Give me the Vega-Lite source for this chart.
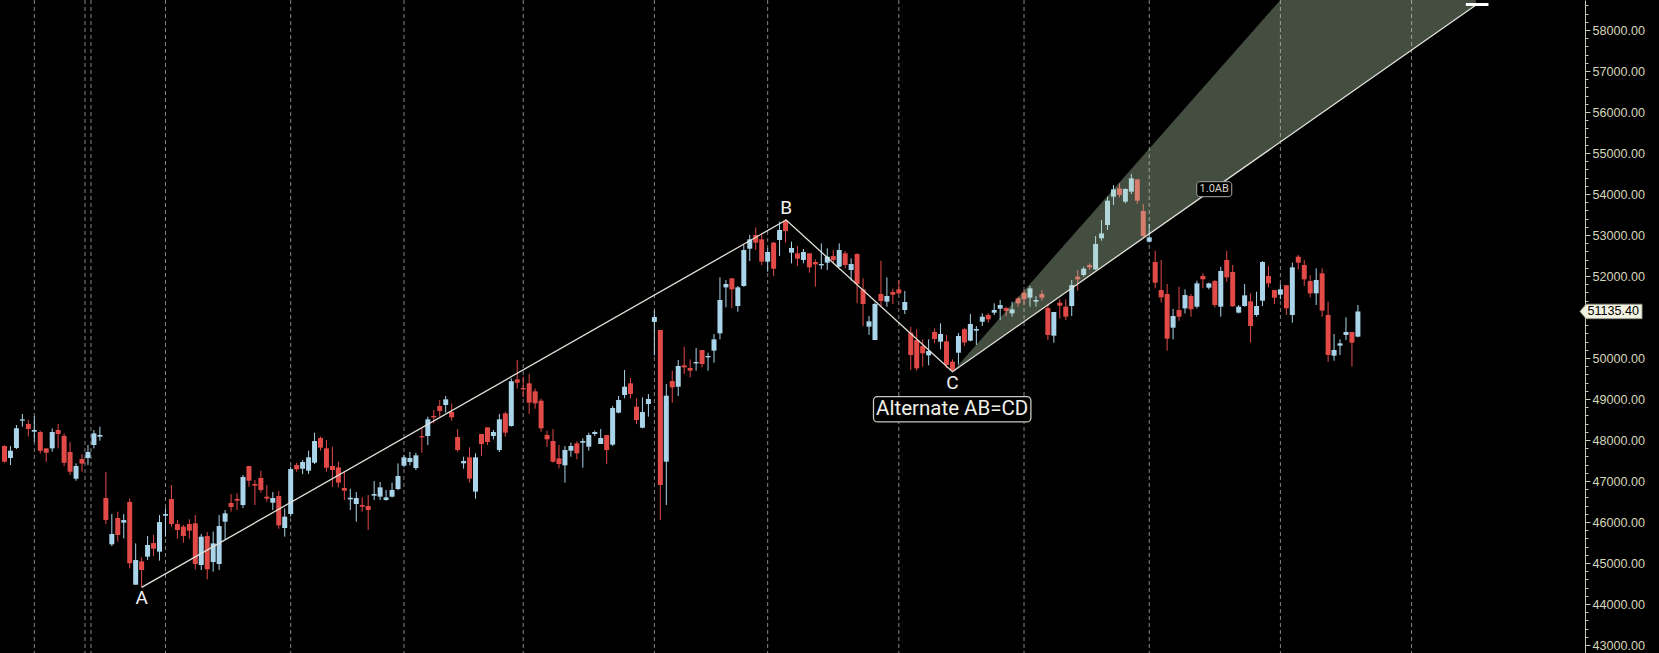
{
"$schema": "https://vega.github.io/schema/vega-lite/v6.json",
"width": 1585, "height": 653,
"autosize": {"type": "none"},
"padding": {"left": 0, "top": 0, "right": 74, "bottom": 0},
"background": "#000000",
"config": {"view": {"stroke": null}},
"datasets": {
"candles": [
{"k":0,"o":47853,"h":47870,"l":47450,"c":47471},
{"k":1,"o":47561,"h":47853,"l":47390,"c":47739},
{"k":2,"o":47805,"h":48366,"l":47780,"c":48284},
{"k":3,"o":48471,"h":48634,"l":48325,"c":48503},
{"k":4,"o":48390,"h":48487,"l":48081,"c":48268},
{"k":5,"o":48203,"h":48585,"l":47959,"c":48244},
{"k":6,"o":48195,"h":48227,"l":47674,"c":47739},
{"k":7,"o":47796,"h":47800,"l":47471,"c":47691},
{"k":8,"o":47796,"h":48284,"l":47715,"c":48195},
{"k":9,"o":48244,"h":48390,"l":47796,"c":48146},
{"k":10,"o":48097,"h":48162,"l":47366,"c":47447},
{"k":11,"o":47707,"h":47951,"l":47146,"c":47227},
{"k":12,"o":47056,"h":47431,"l":47008,"c":47366},
{"k":13,"o":47536,"h":47658,"l":47227,"c":47423},
{"k":14,"o":47561,"h":47878,"l":47390,"c":47707},
{"k":15,"o":47878,"h":48244,"l":47796,"c":48162},
{"k":16,"o":48081,"h":48325,"l":47983,"c":48122},
{"k":17,"o":46585,"h":47219,"l":45951,"c":46048},
{"k":18,"o":45455,"h":46195,"l":45414,"c":45707},
{"k":19,"o":46097,"h":46252,"l":45520,"c":45683},
{"k":20,"o":45984,"h":46195,"l":45601,"c":46048},
{"k":21,"o":46487,"h":46577,"l":44870,"c":44992},
{"k":22,"o":44471,"h":45479,"l":44471,"c":45073},
{"k":23,"o":45040,"h":45138,"l":44406,"c":44829},
{"k":24,"o":45154,"h":45658,"l":45073,"c":45439},
{"k":25,"o":45487,"h":45683,"l":45170,"c":45349},
{"k":26,"o":45276,"h":46170,"l":45057,"c":45999},
{"k":27,"o":46154,"h":46333,"l":45642,"c":46195},
{"k":28,"o":46561,"h":46902,"l":45886,"c":45951},
{"k":29,"o":45951,"h":46048,"l":45593,"c":45805},
{"k":30,"o":45886,"h":45927,"l":45496,"c":45658},
{"k":31,"o":45951,"h":46065,"l":45593,"c":45788},
{"k":32,"o":45967,"h":46170,"l":44845,"c":44975},
{"k":33,"o":44951,"h":45707,"l":44829,"c":45642},
{"k":34,"o":45658,"h":45756,"l":44601,"c":44845},
{"k":35,"o":45024,"h":45764,"l":44788,"c":45479},
{"k":36,"o":44975,"h":46170,"l":44829,"c":45902},
{"k":37,"o":46008,"h":46292,"l":45577,"c":46211},
{"k":38,"o":46463,"h":46683,"l":46252,"c":46365},
{"k":39,"o":46561,"h":46699,"l":46292,"c":46520},
{"k":40,"o":46414,"h":47146,"l":46341,"c":47097},
{"k":41,"o":47366,"h":47366,"l":46861,"c":47008},
{"k":42,"o":46927,"h":47024,"l":46414,"c":46886},
{"k":43,"o":47073,"h":47252,"l":46715,"c":46780},
{"k":44,"o":46618,"h":46902,"l":46496,"c":46569},
{"k":45,"o":46471,"h":46731,"l":46292,"c":46585},
{"k":46,"o":46634,"h":46756,"l":45837,"c":45918},
{"k":47,"o":45853,"h":46333,"l":45642,"c":46130},
{"k":48,"o":46195,"h":47349,"l":46130,"c":47292},
{"k":49,"o":47390,"h":47447,"l":47227,"c":47284},
{"k":50,"o":47300,"h":47512,"l":47170,"c":47463},
{"k":51,"o":47252,"h":47739,"l":47170,"c":47577},
{"k":52,"o":47447,"h":48178,"l":47414,"c":47975},
{"k":53,"o":48048,"h":48081,"l":47739,"c":47813},
{"k":54,"o":47796,"h":47999,"l":47227,"c":47325},
{"k":55,"o":47366,"h":47837,"l":46861,"c":47268},
{"k":56,"o":47333,"h":47471,"l":46845,"c":46959},
{"k":57,"o":46829,"h":47227,"l":46536,"c":46764},
{"k":58,"o":46552,"h":46813,"l":46292,"c":46593},
{"k":59,"o":46439,"h":46731,"l":46008,"c":46585},
{"k":60,"o":46414,"h":46601,"l":46252,"c":46374},
{"k":61,"o":46390,"h":46658,"l":45805,"c":46292},
{"k":62,"o":46642,"h":47000,"l":46536,"c":46683},
{"k":63,"o":46618,"h":46975,"l":46536,"c":46845},
{"k":64,"o":46536,"h":46780,"l":46520,"c":46601},
{"k":65,"o":46618,"h":46959,"l":46601,"c":46780},
{"k":66,"o":46804,"h":47430,"l":46780,"c":47122},
{"k":67,"o":47374,"h":47634,"l":47333,"c":47577},
{"k":68,"o":47463,"h":47707,"l":47382,"c":47561},
{"k":69,"o":47317,"h":47691,"l":47268,"c":47626},
{"k":70,"o":48097,"h":48284,"l":47691,"c":48065},
{"k":71,"o":48097,"h":48569,"l":47878,"c":48504},
{"k":72,"o":48585,"h":48732,"l":48406,"c":48553},
{"k":73,"o":48829,"h":48975,"l":48569,"c":48707},
{"k":74,"o":48854,"h":49073,"l":48666,"c":48992},
{"k":75,"o":48683,"h":48894,"l":48471,"c":48553},
{"k":76,"o":48073,"h":48268,"l":47715,"c":47756},
{"k":77,"o":47431,"h":47593,"l":47300,"c":47488},
{"k":78,"o":47577,"h":47821,"l":46959,"c":47057},
{"k":79,"o":46740,"h":47675,"l":46569,"c":47577},
{"k":80,"o":48146,"h":48146,"l":47610,"c":47902},
{"k":81,"o":48309,"h":48309,"l":47878,"c":47951},
{"k":82,"o":48097,"h":48244,"l":48016,"c":48195},
{"k":83,"o":47756,"h":48634,"l":47707,"c":48504},
{"k":84,"o":48650,"h":48691,"l":48081,"c":48179},
{"k":85,"o":48341,"h":49504,"l":48325,"c":49431},
{"k":86,"o":49479,"h":49951,"l":49252,"c":49398},
{"k":87,"o":49268,"h":49545,"l":49040,"c":49236},
{"k":88,"o":49382,"h":49610,"l":48634,"c":48911},
{"k":89,"o":49187,"h":49252,"l":48764,"c":48894},
{"k":90,"o":48959,"h":49008,"l":48203,"c":48284},
{"k":91,"o":48122,"h":48227,"l":47837,"c":48016},
{"k":92,"o":47975,"h":48268,"l":47447,"c":47471},
{"k":93,"o":47553,"h":47878,"l":47309,"c":47414},
{"k":94,"o":47382,"h":47853,"l":46959,"c":47756},
{"k":95,"o":47740,"h":47935,"l":47593,"c":47854},
{"k":96,"o":47918,"h":47967,"l":47528,"c":47675},
{"k":97,"o":47934,"h":48040,"l":47325,"c":47975},
{"k":98,"o":47837,"h":48178,"l":47739,"c":48122},
{"k":99,"o":48146,"h":48227,"l":48097,"c":48195},
{"k":100,"o":47902,"h":48268,"l":47902,"c":48048},
{"k":101,"o":48122,"h":48122,"l":47414,"c":47756},
{"k":102,"o":47886,"h":48829,"l":47853,"c":48780},
{"k":103,"o":48667,"h":49073,"l":48650,"c":48975},
{"k":104,"o":49097,"h":49707,"l":49016,"c":49300},
{"k":105,"o":49382,"h":49512,"l":49016,"c":49122},
{"k":106,"o":48813,"h":49016,"l":48390,"c":48487},
{"k":107,"o":48300,"h":49040,"l":48284,"c":48682},
{"k":108,"o":48878,"h":49122,"l":48569,"c":49000},
{"k":109,"o":50880,"h":51160,"l":50060,"c":51000},
{"k":110,"o":50683,"h":50683,"l":46049,"c":46902},
{"k":111,"o":47472,"h":49366,"l":46415,"c":49081},
{"k":112,"o":49439,"h":49691,"l":48910,"c":49284},
{"k":113,"o":49300,"h":49951,"l":49073,"c":49805},
{"k":114,"o":49821,"h":50276,"l":49609,"c":49772},
{"k":115,"o":49756,"h":49967,"l":49528,"c":49691},
{"k":116,"o":49869,"h":50243,"l":49691,"c":49902},
{"k":117,"o":50195,"h":50195,"l":49772,"c":49853},
{"k":118,"o":50016,"h":50130,"l":49691,"c":50049},
{"k":119,"o":50179,"h":50585,"l":49886,"c":50455},
{"k":120,"o":50601,"h":51967,"l":50455,"c":51414},
{"k":121,"o":51723,"h":51902,"l":51235,"c":51805},
{"k":122,"o":51943,"h":51943,"l":51211,"c":51674},
{"k":123,"o":51268,"h":51756,"l":51130,"c":51723},
{"k":124,"o":51756,"h":52756,"l":51739,"c":52634},
{"k":125,"o":52666,"h":53000,"l":52365,"c":52894},
{"k":126,"o":53000,"h":53187,"l":52634,"c":52813},
{"k":127,"o":52894,"h":53040,"l":52268,"c":52349},
{"k":128,"o":52349,"h":52675,"l":52105,"c":52585},
{"k":129,"o":52813,"h":52829,"l":51999,"c":52178},
{"k":130,"o":52878,"h":53325,"l":52487,"c":53122},
{"k":131,"o":53349,"h":53382,"l":52813,"c":53097},
{"k":132,"o":52569,"h":52837,"l":52309,"c":52683},
{"k":133,"o":52553,"h":52731,"l":52243,"c":52422},
{"k":134,"o":52390,"h":52658,"l":52309,"c":52585},
{"k":135,"o":52553,"h":52553,"l":52081,"c":52211},
{"k":136,"o":52341,"h":52406,"l":51739,"c":52284},
{"k":137,"o":52259,"h":52796,"l":52162,"c":52292},
{"k":138,"o":52325,"h":52675,"l":52146,"c":52471},
{"k":139,"o":52487,"h":52634,"l":52309,"c":52390},
{"k":140,"o":52227,"h":52796,"l":52211,"c":52634},
{"k":141,"o":52553,"h":52609,"l":52187,"c":52268},
{"k":142,"o":52146,"h":52430,"l":51886,"c":52292},
{"k":143,"o":52536,"h":52552,"l":51333,"c":51805},
{"k":144,"o":51674,"h":51943,"l":50780,"c":51317},
{"k":145,"o":50764,"h":51024,"l":50561,"c":50894},
{"k":146,"o":50439,"h":51349,"l":50439,"c":51317},
{"k":147,"o":51561,"h":52370,"l":51250,"c":51390},
{"k":148,"o":51374,"h":51967,"l":51252,"c":51512},
{"k":149,"o":51609,"h":51691,"l":51317,"c":51544},
{"k":150,"o":51674,"h":51902,"l":51561,"c":51577},
{"k":151,"o":51170,"h":51634,"l":51073,"c":51366},
{"k":152,"o":50617,"h":50764,"l":49707,"c":50073},
{"k":153,"o":50439,"h":50699,"l":49691,"c":49748},
{"k":154,"o":50292,"h":50455,"l":49788,"c":50114},
{"k":155,"o":50065,"h":50455,"l":49821,"c":50170},
{"k":156,"o":50634,"h":50723,"l":50357,"c":50463},
{"k":157,"o":50398,"h":50845,"l":50211,"c":50585},
{"k":158,"o":50406,"h":50561,"l":49748,"c":49829},
{"k":159,"o":49910,"h":49967,"l":49666,"c":49707},
{"k":160,"o":50130,"h":50610,"l":49840,"c":50537},
{"k":161,"o":50703,"h":50735,"l":50300,"c":50378},
{"k":162,"o":50423,"h":51073,"l":50406,"c":50829},
{"k":163,"o":50667,"h":50780,"l":50317,"c":50707},
{"k":164,"o":50886,"h":51089,"l":50780,"c":51008},
{"k":165,"o":51049,"h":51089,"l":50862,"c":50943},
{"k":166,"o":51106,"h":51333,"l":51049,"c":51171},
{"k":167,"o":51203,"h":51414,"l":50927,"c":51292},
{"k":168,"o":51219,"h":51252,"l":51024,"c":51146},
{"k":169,"o":51089,"h":51374,"l":51008,"c":51187},
{"k":170,"o":51455,"h":51496,"l":51252,"c":51333},
{"k":171,"o":51593,"h":51658,"l":51292,"c":51431},
{"k":172,"o":51471,"h":51756,"l":51252,"c":51699},
{"k":173,"o":51374,"h":51512,"l":51252,"c":51415},
{"k":174,"o":51561,"h":51658,"l":51398,"c":51471},
{"k":175,"o":51219,"h":51317,"l":50439,"c":50561},
{"k":176,"o":50545,"h":51122,"l":50374,"c":51122},
{"k":177,"o":51349,"h":51431,"l":50967,"c":51276},
{"k":178,"o":51252,"h":51431,"l":50927,"c":51008},
{"k":179,"o":51268,"h":51902,"l":51024,"c":51780},
{"k":180,"o":51984,"h":52146,"l":51642,"c":51918},
{"k":181,"o":52024,"h":52227,"l":51984,"c":52178},
{"k":182,"o":52268,"h":52309,"l":52146,"c":52211},
{"k":183,"o":52162,"h":52975,"l":52146,"c":52780},
{"k":184,"o":52919,"h":53366,"l":52861,"c":53040},
{"k":185,"o":53244,"h":53935,"l":53122,"c":53837},
{"k":186,"o":53935,"h":54219,"l":53731,"c":54114},
{"k":187,"o":54138,"h":54260,"l":53918,"c":53975},
{"k":188,"o":53813,"h":54138,"l":53772,"c":54122},
{"k":189,"o":54057,"h":54488,"l":54000,"c":54382},
{"k":190,"o":54357,"h":54357,"l":53756,"c":53837},
{"k":191,"o":53585,"h":53756,"l":52943,"c":52975},
{"k":192,"o":52837,"h":53268,"l":52813,"c":52943},
{"k":193,"o":52341,"h":52617,"l":51699,"c":51837},
{"k":194,"o":51658,"h":52390,"l":51350,"c":51479},
{"k":195,"o":51561,"h":51805,"l":50179,"c":50471},
{"k":196,"o":50740,"h":51195,"l":50455,"c":51024},
{"k":197,"o":51171,"h":51740,"l":50911,"c":51008},
{"k":198,"o":51211,"h":51675,"l":51089,"c":51536},
{"k":199,"o":51512,"h":51561,"l":51008,"c":51187},
{"k":200,"o":51252,"h":51886,"l":51211,"c":51821},
{"k":201,"o":52000,"h":52065,"l":51699,"c":51919},
{"k":202,"o":51715,"h":51837,"l":51675,"c":51821},
{"k":203,"o":51878,"h":51902,"l":51236,"c":51292},
{"k":204,"o":51252,"h":52227,"l":51008,"c":52122},
{"k":205,"o":52390,"h":52617,"l":51862,"c":51967},
{"k":206,"o":52097,"h":52268,"l":51252,"c":51260},
{"k":207,"o":51106,"h":51292,"l":51089,"c":51252},
{"k":208,"o":51268,"h":51805,"l":51252,"c":51528},
{"k":209,"o":51382,"h":51577,"l":50374,"c":50780},
{"k":210,"o":51049,"h":51618,"l":51008,"c":51268},
{"k":211,"o":51398,"h":52365,"l":51268,"c":52341},
{"k":212,"o":51999,"h":52243,"l":51723,"c":51821},
{"k":213,"o":51658,"h":51658,"l":51317,"c":51471},
{"k":214,"o":51545,"h":51800,"l":51430,"c":51675},
{"k":215,"o":51775,"h":51775,"l":51049,"c":51212},
{"k":216,"o":51049,"h":52325,"l":50862,"c":52211},
{"k":217,"o":52472,"h":52512,"l":52163,"c":52325},
{"k":218,"o":52268,"h":52390,"l":51756,"c":51919},
{"k":219,"o":51878,"h":52024,"l":51480,"c":51577},
{"k":220,"o":51577,"h":52187,"l":51293,"c":51902},
{"k":221,"o":52065,"h":52187,"l":51008,"c":51155},
{"k":222,"o":51049,"h":51374,"l":49911,"c":50073},
{"k":223,"o":50057,"h":50586,"l":49935,"c":50195},
{"k":224,"o":50301,"h":50455,"l":50073,"c":50358},
{"k":225,"o":50562,"h":50992,"l":50439,"c":50635},
{"k":226,"o":50635,"h":50635,"l":49789,"c":50374},
{"k":227,"o":50521,"h":51293,"l":50504,"c":51135.4}
],
"months": [{"k":5},{"k":13.5},{"k":14.5},{"k":27},{"k":48},{"k":67},{"k":87},{"k":109},{"k":128},{"k":150},{"k":171},{"k":192},{"k":214},{"k":236}],
"pattern": [{"k":23,"v":44406,"s":1},{"k":131.1,"v":53366,"s":2},{"k":159,"v":49666,"s":3},{"k":246.8,"v":58610,"s":4}],
"zone": [{"k":159,"top":49666,"bot":49666},{"k":246.8,"top":64136,"bot":58610}],
"handle": [{"k":245.1,"k2":248.9,"v":58622}],
"points": [{"k":23,"v":44156,"t":"A"},{"k":131.1,"v":53666,"t":"B"},{"k":159,"v":49383,"t":"C"}],
"bigbox": [{"k":158.95,"v":48749,"t":"Alternate AB=CD"}],
"smallbox": [{"k":202.9,"v":54117,"t":"1.0AB"}],
"last": [{"k":264.25,"v":51135.4,"t":"51135.40"}]
},
"layer": [
{"data": {"name": "months"}, "mark": {"type": "rule", "color": "#858585", "strokeWidth": 1, "strokeDash": [4, 3]},
 "encoding": {"x": {"field": "k", "type": "quantitative", "scale": {"domain": [0.0833, 264.25], "nice": false, "zero": false}, "axis": null}}},
{"data": {"name": "candles"}, "mark": {"type": "rule", "strokeWidth": 1, "clip": true},
 "encoding": {
  "x": {"field": "k", "type": "quantitative", "axis": null},
  "y": {"field": "l", "type": "quantitative", "scale": {"domain": [42805, 58732], "nice": false, "zero": false},
   "axis": {"orient": "right", "title": null, "grid": false, "tickCount": 200,
    "values": [43000,43200,43400,43600,43800,44000,44200,44400,44600,44800,45000,45200,45400,45600,45800,46000,46200,46400,46600,46800,47000,47200,47400,47600,47800,48000,48200,48400,48600,48800,49000,49200,49400,49600,49800,50000,50200,50400,50600,50800,51000,51200,51400,51600,51800,52000,52200,52400,52600,52800,53000,53200,53400,53600,53800,54000,54200,54400,54600,54800,55000,55200,55400,55600,55800,56000,56200,56400,56600,56800,57000,57200,57400,57600,57800,58000,58200,58400,58600],
    "labelExpr": "(datum.value % 1000 === 0 && datum.value !== 51000) ? format(datum.value, '.2f') : ''",
    "labelFontSize": {"condition": {"test": "datum.value % 1000 === 0", "value": 12.6}, "value": 0},
    "tickSize": {"condition": {"test": "datum.value % 1000 === 0", "value": 5}, "value": 3},
    "labelPadding": 2, "labelFont": "Liberation Sans", "labelColor": "#d6d6b8",
    "domainColor": "#c8c8b0", "tickColor": "#c8c8b0", "domainWidth": 1, "tickWidth": 1, "labelOverlap": false, "labelBound": false, "labelFlush": false}},
  "y2": {"field": "h"},
  "color": {"condition": {"test": "datum.c >= datum.o", "value": "#a9d4ea"}, "value": "#e24a48"}}},
{"data": {"name": "candles"}, "mark": {"type": "bar", "size": 5, "clip": true},
 "encoding": {
  "x": {"field": "k", "type": "quantitative", "axis": null},
  "y": {"field": "o", "type": "quantitative", "title": null},
  "y2": {"field": "c"},
  "color": {"condition": {"test": "datum.c >= datum.o", "value": "#a9d4ea"}, "value": "#e24a48"}}},
{"data": {"name": "zone"}, "mark": {"type": "area", "color": "#bfdcb7", "opacity": 0.35, "clip": true},
 "encoding": {
  "x": {"field": "k", "type": "quantitative", "axis": null},
  "y": {"field": "top", "type": "quantitative", "title": null},
  "y2": {"field": "bot"}}},
{"data": {"name": "pattern"}, "mark": {"type": "line", "color": "#e2e2da", "strokeWidth": 1.3, "clip": true},
 "encoding": {
  "x": {"field": "k", "type": "quantitative", "axis": null},
  "y": {"field": "v", "type": "quantitative", "title": null},
  "order": {"field": "s"}}},
{"data": {"name": "handle"}, "mark": {"type": "rule", "color": "#ffffff", "strokeWidth": 3, "clip": true},
 "encoding": {
  "x": {"field": "k", "type": "quantitative", "axis": null},
  "x2": {"field": "k2"},
  "y": {"field": "v", "type": "quantitative", "title": null}}},
{"data": {"name": "points"}, "mark": {"type": "text", "font": "Roboto", "fontSize": 19, "color": "#f2f2f2", "align": "center", "baseline": "middle"},
 "encoding": {
  "x": {"field": "k", "type": "quantitative", "axis": null},
  "y": {"field": "v", "type": "quantitative", "title": null},
  "text": {"field": "t"}}},
{"data": {"name": "bigbox"}, "mark": {"type": "point", "filled": true, "fill": "#000000", "stroke": "#c8c8c0", "strokeWidth": 1.3, "opacity": 1, "size": 4,
  "shape": "M-74.7,-12.65 H74.7 A4,4 0 0 1 78.7,-8.65 V8.65 A4,4 0 0 1 74.7,12.65 H-74.7 A4,4 0 0 1 -78.7,8.65 V-8.65 A4,4 0 0 1 -74.7,-12.65 Z"},
 "encoding": {
  "x": {"field": "k", "type": "quantitative", "axis": null},
  "y": {"field": "v", "type": "quantitative", "title": null}}},
{"data": {"name": "bigbox"}, "mark": {"type": "text", "font": "Roboto", "fontSize": 20.5, "color": "#f0f0e8", "align": "center", "baseline": "middle"},
 "encoding": {
  "x": {"field": "k", "type": "quantitative", "axis": null},
  "y": {"field": "v", "type": "quantitative", "title": null},
  "text": {"field": "t"}}},
{"data": {"name": "smallbox"}, "mark": {"type": "point", "filled": true, "fill": "#000000", "stroke": "#a8a8a0", "strokeWidth": 1, "opacity": 1, "size": 4,
  "shape": "M-14.5,-7.5 H14.5 A3,3 0 0 1 17.5,-4.5 V4.5 A3,3 0 0 1 14.5,7.5 H-14.5 A3,3 0 0 1 -17.5,4.5 V-4.5 A3,3 0 0 1 -14.5,-7.5 Z"},
 "encoding": {
  "x": {"field": "k", "type": "quantitative", "axis": null},
  "y": {"field": "v", "type": "quantitative", "title": null}}},
{"data": {"name": "smallbox"}, "mark": {"type": "text", "font": "Roboto", "fontSize": 11, "color": "#d4d4cc", "align": "center", "baseline": "middle"},
 "encoding": {
  "x": {"field": "k", "type": "quantitative", "axis": null},
  "y": {"field": "v", "type": "quantitative", "title": null},
  "text": {"field": "t"}}},
{"data": {"name": "last"}, "mark": {"type": "point", "filled": true, "fill": "#f2f2e2", "stroke": "#9a9a8a", "strokeWidth": 1, "opacity": 1, "size": 4,
  "shape": "M0,0 L6,-7.2 L62,-7.2 L62,7.2 L6,7.2 Z"},
 "encoding": {
  "x": {"field": "k", "type": "quantitative", "axis": null},
  "y": {"field": "v", "type": "quantitative", "title": null}}},
{"data": {"name": "last"}, "mark": {"type": "text", "font": "Liberation Sans", "fontSize": 12.6, "color": "#000000", "align": "left", "baseline": "middle", "dx": 7.5},
 "encoding": {
  "x": {"field": "k", "type": "quantitative", "axis": null},
  "y": {"field": "v", "type": "quantitative", "title": null},
  "text": {"field": "t"}}}
]
}
